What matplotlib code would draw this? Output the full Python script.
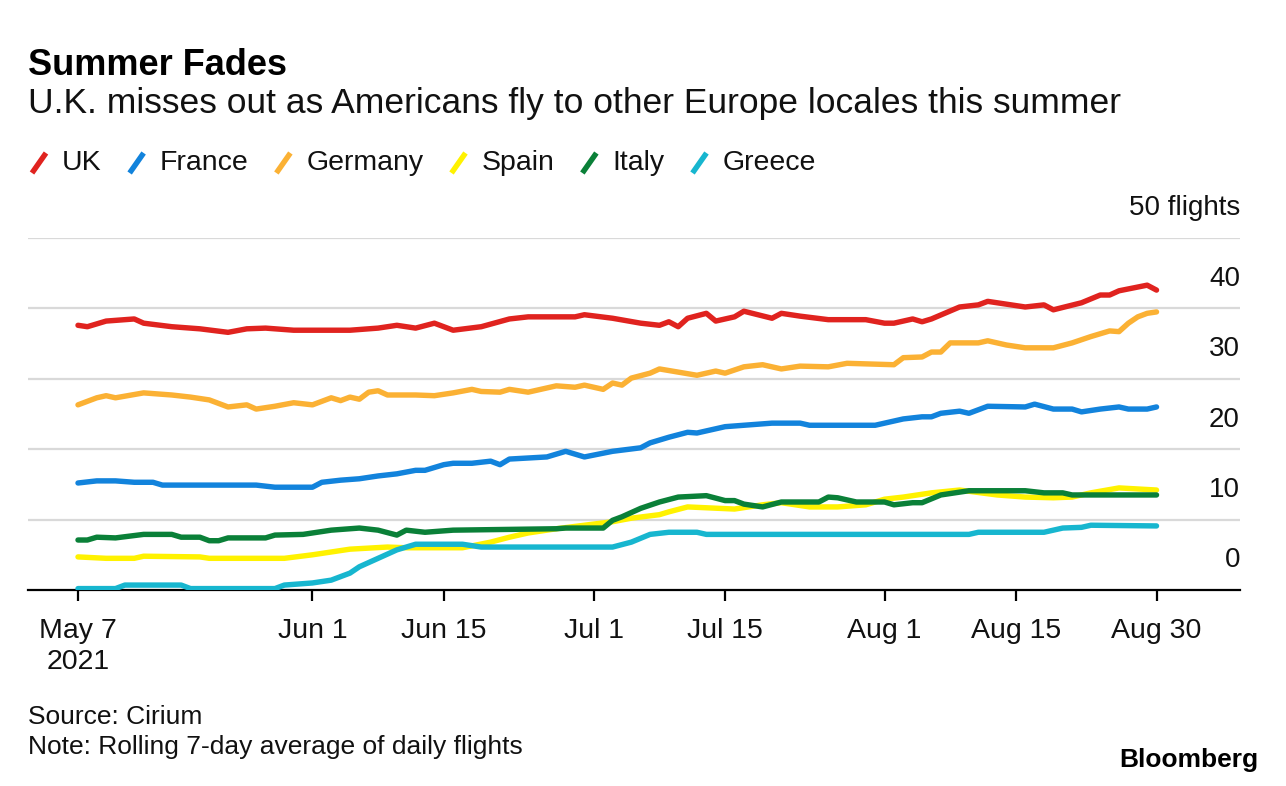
import pandas as pd
import matplotlib
matplotlib.use("Agg")
import matplotlib.pyplot as plt
from matplotlib.lines import Line2D
import matplotlib.transforms as mtransforms

plt.rcParams['font.family'] = ['Liberation Sans', 'DejaVu Sans']

START = pd.Timestamp('2021-05-07')

# days after May 7 2021 / rolling 7-day average of daily flights
uk_days = [0, 1, 3, 6, 7, 10, 13, 16, 18, 20, 23, 26, 29, 32, 34, 36, 38, 40, 43, 46, 48, 53, 54, 57,
           60, 62, 63, 64, 65, 67, 68, 70, 71, 74, 75, 77, 80, 84, 86, 87, 89, 90, 91, 94, 96, 97,
           99, 101, 103, 104, 107, 109, 110, 111, 114, 115]
uk = [37.6, 37.4, 38.2, 38.5, 37.9, 37.4, 37.1, 36.6, 37.1, 37.2, 36.9, 36.9, 36.9, 37.2, 37.6, 37.2,
      37.9, 36.9, 37.4, 38.5, 38.8, 38.8, 39.1, 38.6, 37.9, 37.6, 38.1, 37.4, 38.6, 39.3, 38.2, 38.8,
      39.6, 38.6, 39.3, 38.9, 38.4, 38.4, 37.9, 37.9, 38.5, 38.1, 38.5, 40.2, 40.5, 41.0, 40.6, 40.2,
      40.5, 39.8, 40.8, 41.9, 41.9, 42.5, 43.3, 42.6]

france_days = [0, 2, 4, 6, 8, 9, 12, 19, 21, 25, 26, 28, 30, 32, 34, 36, 37, 39, 40, 42, 44, 45, 46,
               50, 52, 54, 57, 60, 61, 63, 65, 66, 69, 71, 74, 77, 78, 85, 88, 90, 91, 92, 94, 95,
               97, 101, 102, 104, 106, 107, 109, 111, 112, 114, 115]
france = [15.2, 15.5, 15.5, 15.3, 15.3, 14.9, 14.9, 14.9, 14.6, 14.6, 15.3, 15.6, 15.8, 16.2, 16.5,
          17.0, 17.0, 17.8, 18.0, 18.0, 18.3, 17.8, 18.6, 18.9, 19.7, 18.9, 19.7, 20.2, 20.9, 21.7,
          22.4, 22.3, 23.2, 23.4, 23.7, 23.7, 23.4, 23.4, 24.3, 24.6, 24.6, 25.1, 25.4, 25.1, 26.1,
          26.0, 26.4, 25.7, 25.7, 25.3, 25.7, 26.0, 25.7, 25.7, 26.0]

germany_days = [0, 2, 3, 4, 7, 10, 12, 14, 16, 18, 19, 21, 23, 25, 27, 28, 29, 30, 31, 32, 33, 36,
                38, 40, 42, 43, 45, 46, 48, 51, 53, 54, 56, 57, 58, 59, 61, 62, 66, 68, 69, 71, 73,
                75, 77, 80, 82, 87, 88, 90, 91, 92, 93, 96, 97, 99, 101, 104, 106, 108, 110, 111,
                112, 113, 114, 115]
germany = [26.3, 27.3, 27.6, 27.3, 28.0, 27.7, 27.4, 27.0, 26.0, 26.3, 25.7, 26.1, 26.6, 26.3, 27.3,
           26.9, 27.4, 27.1, 28.1, 28.3, 27.7, 27.7, 27.6, 28.0, 28.5, 28.2, 28.1, 28.5, 28.1, 29.0,
           28.8, 29.1, 28.5, 29.4, 29.1, 30.1, 30.8, 31.4, 30.5, 31.1, 30.8, 31.7, 32.0, 31.4, 31.8,
           31.7, 32.2, 32.0, 33.0, 33.1, 33.8, 33.8, 35.1, 35.1, 35.4, 34.8, 34.4, 34.4, 35.1, 36.0,
           36.8, 36.7, 37.9, 38.8, 39.3, 39.5]

spain_days = [0, 3, 6, 7, 13, 14, 22, 25, 27, 29, 33, 35, 41, 44, 46, 48, 51, 54, 57, 59, 62, 63,
              65, 70, 73, 75, 78, 81, 84, 86, 88, 91, 94, 98, 101, 104, 106, 108, 111, 115]
spain = [4.7, 4.5, 4.5, 4.8, 4.7, 4.5, 4.5, 5.0, 5.4, 5.8, 6.1, 6.0, 6.0, 6.8, 7.5, 8.1, 8.7, 9.2,
         9.7, 10.2, 10.7, 11.1, 11.8, 11.5, 12.1, 12.4, 11.8, 11.8, 12.1, 12.9, 13.2, 13.8, 14.2,
         13.5, 13.2, 13.1, 13.2, 13.8, 14.5, 14.2]

italy_days = [0, 1, 2, 4, 7, 10, 11, 13, 14, 15, 16, 20, 21, 24, 25, 27, 29, 30, 32, 34, 35, 37, 40,
              51, 52, 56, 57, 58, 60, 62, 64, 67, 69, 70, 71, 73, 75, 79, 80, 81, 83, 86, 87, 89,
              90, 92, 95, 101, 103, 105, 106, 115]
italy = [7.1, 7.1, 7.5, 7.4, 7.9, 7.9, 7.5, 7.5, 7.0, 7.0, 7.4, 7.4, 7.8, 7.9, 8.1, 8.5, 8.7, 8.8,
         8.5, 7.8, 8.5, 8.2, 8.5, 8.7, 8.8, 8.8, 9.9, 10.4, 11.6, 12.5, 13.2, 13.4, 12.7, 12.7,
         12.2, 11.8, 12.5, 12.5, 13.2, 13.1, 12.5, 12.5, 12.1, 12.4, 12.4, 13.5, 14.1, 14.1, 13.8,
         13.8, 13.5, 13.5]

greece_days = [0, 4, 5, 11, 12, 21, 22, 25, 27, 29, 30, 32, 34, 36, 41, 43, 57, 59, 61, 63, 66, 67,
               95, 96, 103, 105, 107, 108, 115]
greece = [0.2, 0.2, 0.7, 0.7, 0.2, 0.2, 0.7, 1.0, 1.4, 2.4, 3.3, 4.5, 5.7, 6.5, 6.5, 6.1, 6.1, 6.8,
          7.9, 8.2, 8.2, 7.9, 7.9, 8.2, 8.2, 8.8, 8.9, 9.2, 9.1]

names = ['UK', 'France', 'Germany', 'Spain', 'Italy', 'Greece']
colors = ['#e0231f', '#1283dc', '#fbb134', '#fff200', '#0a8038', '#17b6cf']
series = [(uk_days, uk), (france_days, france), (germany_days, germany),
          (spain_days, spain), (italy_days, italy), (greece_days, greece)]

tick_dates = ['2021-05-07', '2021-06-01', '2021-06-15', '2021-07-01', '2021-07-15',
              '2021-08-01', '2021-08-15', '2021-08-30']
tick_labels = ['May 7\n2021', 'Jun 1', 'Jun 15', 'Jul 1', 'Jul 15', 'Aug 1', 'Aug 15', 'Aug 30']
y_levels = [0, 10, 20, 30, 40, 50]

W, H = 1286, 786
fig = plt.figure(figsize=(W / 100, H / 100), dpi=100)
ax = fig.add_axes([28 / W, 1 - 590 / H, (1240 - 28) / W, (590 - 238) / H])

for (d, v), c in zip(series, colors):
    x = [START + pd.Timedelta(days=i) for i in d]
    ax.plot(x, v, color=c, lw=3.9, solid_joinstyle='round', solid_capstyle='round', zorder=3)

ax.set_ylim(0, 50)
ax.set_xlim(START - pd.Timedelta(days=5.33), START + pd.Timedelta(days=123.9))

for yv in y_levels[1:]:
    ax.axhline(yv, color='#d9d9d9', lw=1.6, zorder=1)

for s in ['top', 'left', 'right']:
    ax.spines[s].set_visible(False)
ax.spines['bottom'].set_color('black')
ax.spines['bottom'].set_linewidth(1.6)
ax.set_yticks([])

ax.set_xticks([pd.Timestamp(t) for t in tick_dates])
ax.set_xticklabels(tick_labels, fontsize=20.5, color='#111111', linespacing=1.25)
ax.tick_params(axis='x', length=8, width=1.6, color='black', pad=12)

# y labels sit above their gridlines, right aligned
blend = mtransforms.blended_transform_factory(ax.transAxes, ax.transData)
for yv in y_levels:
    lab = '50 flights' if yv == 50 else str(yv)
    ax.text(1.0, yv + 4.2, lab, transform=blend, ha='right', va='center',
            fontsize=20, color='#111111', clip_on=False)

fig.text(28 / W, 1 - 75 / H, 'Summer Fades', fontsize=26, fontweight='bold', va='baseline')
fig.text(28 / W, 1 - 113 / H, 'U.K. misses out as Americans fly to other Europe locales this summer',
         fontsize=25.5, va='baseline', color='#111111')

# legend with slanted strokes
fig.canvas.draw()
renderer = fig.canvas.get_renderer()
xpos = 30
ly = 163
for name, c in zip(names, colors):
    fig.add_artist(Line2D([(xpos + 2) / W, (xpos + 16) / W], [1 - (ly + 10) / H, 1 - (ly - 10) / H],
                          color=c, lw=3.9, solid_capstyle='butt', transform=fig.transFigure))
    t = fig.text((xpos + 32) / W, 1 - ly / H, name, fontsize=20.5, va='center', color='#111111')
    bb = t.get_window_extent(renderer)
    xpos = bb.x1 + 26

fig.text(28 / W, 1 - 717 / H, 'Source: Cirium', fontsize=19, va='center', color='#111111')
fig.text(28 / W, 1 - 747 / H, 'Note: Rolling 7-day average of daily flights', fontsize=19,
         va='center', color='#111111')
fig.text(1258 / W, 1 - 760 / H, 'Bloomberg', fontsize=19, fontweight='bold', ha='right',
         va='center', color='black')

fig.savefig('out.png', dpi=100)
